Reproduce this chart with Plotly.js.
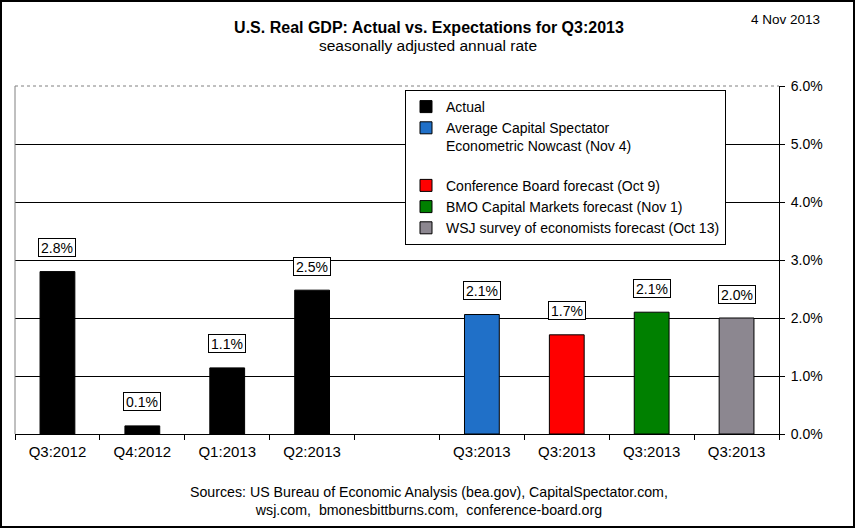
<!DOCTYPE html>
<html>
<head>
<meta charset="utf-8">
<script src="https://cdn.plot.ly/plotly-3.0.1.min.js"></script>
<style>
  html, body { margin: 0; padding: 0; background: #fff; }
  #wrap { position: relative; width: 855px; height: 528px; }
  #chart { width: 855px; height: 528px; }
  #frame { position: absolute; left: 0; top: 0; width: 855px; height: 528px; box-sizing: border-box; border: 2px solid #000; pointer-events: none; }
</style>
</head>
<body>
<div id="wrap"><div id="chart"></div><div id="frame"></div></div>
<script>
// ---- data ----
const categories = ["Q3:2012", "Q4:2012", "Q1:2013", "Q2:2013", "", "Q3:2013", "Q3:2013", "Q3:2013", "Q3:2013"];
const actual      = [2.8, 0.14, 1.14, 2.48, null, null, null, null, null];
const nowcast     = [null, null, null, null, null, 2.06, null, null, null];
const conference  = [null, null, null, null, null, null, 1.71, null, null];
const bmo         = [null, null, null, null, null, null, null, 2.1, null];
const wsj         = [null, null, null, null, null, null, null, null, 2.0];
const seriesNames = [
  "Actual",
  "Average Capital Spectator<br>Econometric Nowcast (Nov 4)<br> ",
  "Conference Board forecast (Oct 9)",
  "BMO Capital Markets forecast (Nov 1)",
  "WSJ survey of economists forecast (Oct 13)"
];
const seriesColors = ["#000000", "#2070c8", "#ff0000", "#008000", "#8c8790"];
const yTicks = [0, 1, 2, 3, 4, 5, 6];

const FONT = "Arial, 'Liberation Sans', sans-serif";
const xIdx = categories.map((_, i) => i);
const seriesValues = [actual, nowcast, conference, bmo, wsj];

const traces = seriesValues.map((vals, k) => ({
  type: "bar",
  x: xIdx,
  y: vals,
  name: seriesNames[k],
  width: 0.41,
  marker: { color: seriesColors[k], line: { color: "#000", width: 1 } },
  hoverinfo: "skip"
}));

const annotations = [];
seriesValues.forEach(vals => {
  vals.forEach((v, i) => {
    if (v === null) return;
    annotations.push({
      x: i, y: v, xref: "x", yref: "y",
      text: v.toFixed(1) + "%",
      showarrow: false, yanchor: "middle", yshift: 24,
      font: { family: FONT, size: 14, color: "#000" },
      bgcolor: "#fff", bordercolor: "#000", borderwidth: 1,
      borderpad: 1, width: 34, height: 15
    });
  });
});

annotations.push(
  { xref: "paper", yref: "paper", x: (428 - 15) / 764, y: 1 + (86 - 46) / 348, text: "seasonally adjusted annual rate",
    showarrow: false, xanchor: "center", yanchor: "middle", font: { family: FONT, size: 15.5, color: "#000" } },
  { xref: "paper", yref: "paper", x: (822 - 15) / 764, y: 1 + (86 - 19) / 348, text: "4 Nov 2013",
    showarrow: false, xanchor: "right", yanchor: "middle", font: { family: FONT, size: 13.5, color: "#000" } },
  { xref: "paper", yref: "paper", x: (429 - 15) / 764, y: -(501 - 434) / 348,
    text: "Sources: US Bureau of Economic Analysis (bea.gov), CapitalSpectator.com,<br>wsj.com,  bmonesbittburns.com,  conference-board.org",
    showarrow: false, xanchor: "center", yanchor: "middle", font: { family: FONT, size: 14.2, color: "#000" } }
);

const layout = {
  width: 855, height: 528,
  paper_bgcolor: "#fff", plot_bgcolor: "#fff",
  margin: { l: 15, r: 76, t: 86, b: 94 },
  font: { family: FONT, color: "#000" },
  title: {
    text: "<b>U.S. Real GDP: Actual vs. Expectations for Q3:2013</b>",
    xref: "container", x: 429 / 855, xanchor: "center",
    yref: "container", y: 1 - 27 / 528, yanchor: "middle",
    font: { family: FONT, size: 16, color: "#000" }
  },
  barmode: "overlay",
  showlegend: true,
  legend: {
    x: (405 - 15) / 764, y: 1 - (90 - 86) / 348, xanchor: "left", yanchor: "top",
    bgcolor: "#fff", bordercolor: "#000", borderwidth: 1,
    font: { family: FONT, size: 14, color: "#000" },
    valign: "top", tracegroupgap: 0, itemwidth: 30
  },
  xaxis: {
    range: [-0.5, 8.5],
    tickmode: "array", tickvals: xIdx, ticktext: categories,
    ticks: "", showgrid: false, zeroline: false,
    showline: true, linecolor: "#000", linewidth: 1,
    tickfont: { family: FONT, size: 15, color: "#000" },
    ticklabelstandoff: 4,
    minor: { tickmode: "array", tickvals: categories.concat([""]).map((_, i) => i - 0.5), ticks: "outside", ticklen: 5, tickcolor: "#000", showgrid: false },
    fixedrange: true
  },
  yaxis: {
    side: "right", range: [0, 6],
    tickmode: "array", tickvals: yTicks, ticktext: yTicks.map(v => v.toFixed(1) + "%"),
    ticks: "outside", ticklen: 5, tickcolor: "#000",
    showline: true, linecolor: "#000", linewidth: 1,
    showgrid: true, gridcolor: "#000", gridwidth: 1, zeroline: false,
    tickfont: { family: FONT, size: 14, color: "#000" },
    ticklabelstandoff: 3,
    fixedrange: true
  },
  shapes: [
    { type: "line", xref: "paper", yref: "paper", x0: 0, x1: 1, y0: 1, y1: 1, layer: "above", line: { color: "#808080", width: 1, dash: "dot" } },
    { type: "line", xref: "paper", yref: "paper", x0: 0, x1: 0, y0: 0, y1: 1, layer: "above", line: { color: "#808080", width: 1 } }
  ],
  annotations: annotations
};

Plotly.newPlot("chart", traces, layout, { displayModeBar: false, staticPlot: true });
</script>
</body>
</html>
